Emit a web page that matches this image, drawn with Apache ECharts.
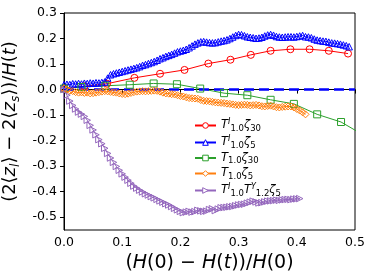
<!DOCTYPE html>
<html><head><meta charset="utf-8">
<script src="https://cdn.jsdelivr.net/npm/echarts@6/dist/echarts.min.js"></script>
<style>html,body{margin:0;padding:0;background:#fff}#c{width:374px;height:280px}</style>
</head><body><div id="c"></div>
<script>
const xTicks = [0.0, 0.1, 0.2, 0.3, 0.4, 0.5];
const yTicks = [-0.5, -0.4, -0.3, -0.2, -0.1, 0.0, 0.1, 0.2, 0.3];

const redX = [0.0, 0.035, 0.074, 0.121, 0.165, 0.207, 0.248, 0.286, 0.321, 0.355, 0.389, 0.422, 0.455, 0.488];
const redY = [0.004, 0.013, 0.023, 0.046, 0.062, 0.077, 0.102, 0.117, 0.136, 0.152, 0.158, 0.158, 0.152, 0.141];

const greenX = [0.0, 0.03, 0.071, 0.113, 0.154, 0.194, 0.234, 0.275, 0.315, 0.355, 0.395, 0.435, 0.476, 0.516];
const greenY = [0.004, 0.010, 0.015, 0.019, 0.024, 0.021, 0.004, -0.014, -0.022, -0.040, -0.056, -0.097, -0.127, -0.180];

const blueX = [0.000,0.005,0.010,0.015,0.020,0.025,0.030,0.035,0.040,0.045,0.050,0.055,0.060,0.065,0.070,0.075,0.080,0.085,0.090,0.095,
0.100,0.105,0.110,0.115,0.120,0.125,0.130,0.135,0.140,0.145,0.150,0.155,0.160,0.165,0.170,0.175,0.180,0.185,0.190,0.195,
0.200,0.205,0.210,0.215,0.220,0.225,0.230,0.235,0.240,0.245,0.250,0.255,0.260,0.265,0.270,0.275,0.280,0.285,0.290,0.295,
0.300,0.305,0.310,0.315,0.320,0.325,0.330,0.335,0.340,0.345,0.350,0.355,0.360,0.365,0.370,0.375,0.380,0.385,0.390,0.395,
0.400,0.405,0.410,0.415,0.420,0.425,0.430,0.435,0.440,0.445,0.450,0.455,0.460,0.465,0.470,0.475,0.480,0.485,0.490];
const blueY = [0.019,0.021,0.020,0.023,0.022,0.024,0.022,0.025,0.024,0.026,0.025,0.027,0.026,0.028,0.030,0.045,0.058,0.062,0.065,0.068,
0.071,0.074,0.077,0.080,0.083,0.086,0.090,0.095,0.098,0.102,0.106,0.110,0.115,0.121,0.125,0.130,0.134,0.138,0.143,0.148,
0.151,0.154,0.158,0.164,0.171,0.178,0.183,0.187,0.188,0.186,0.184,0.183,0.184,0.187,0.190,0.192,0.195,0.200,0.206,0.212,
0.216,0.215,0.211,0.207,0.205,0.203,0.201,0.202,0.205,0.210,0.214,0.216,0.213,0.208,0.206,0.205,0.206,0.207,0.207,0.206,
0.208,0.210,0.212,0.207,0.206,0.203,0.198,0.194,0.192,0.190,0.189,0.186,0.183,0.182,0.180,0.178,0.175,0.172,0.168];

const orangeX = [0.000,0.005,0.010,0.015,0.020,0.025,0.030,0.035,0.040,0.045,0.050,0.055,0.060,0.065,0.070,0.075,0.080,0.085,0.090,0.095,
0.100,0.105,0.110,0.115,0.120,0.125,0.130,0.135,0.140,0.145,0.150,0.155,0.160,0.165,0.170,0.175,0.180,0.185,0.190,0.195,
0.200,0.205,0.210,0.215,0.220,0.225,0.230,0.235,0.240,0.245,0.250,0.255,0.260,0.265,0.270,0.275,0.280,0.285,0.290,0.295,
0.300,0.305,0.310,0.315,0.320,0.325,0.330,0.335,0.340,0.345,0.350,0.355,0.360,0.365,0.370,0.375,0.380,0.385,0.390,0.395,
0.400,0.405,0.410,0.415];
const orangeY = [0.004,0.000,-0.004,-0.006,-0.010,-0.012,-0.011,-0.013,-0.012,-0.015,-0.014,-0.012,-0.010,-0.008,-0.006,-0.007,-0.009,-0.011,-0.012,-0.015,
-0.017,-0.018,-0.016,-0.013,-0.010,-0.008,-0.007,-0.006,-0.007,-0.006,-0.005,-0.004,-0.005,-0.008,-0.012,-0.015,-0.016,-0.018,-0.019,-0.022,
-0.025,-0.027,-0.030,-0.033,-0.034,-0.035,-0.036,-0.041,-0.044,-0.045,-0.046,-0.048,-0.050,-0.051,-0.052,-0.053,-0.055,-0.056,-0.058,-0.060,
-0.061,-0.060,-0.059,-0.060,-0.062,-0.061,-0.060,-0.062,-0.065,-0.066,-0.064,-0.063,-0.066,-0.069,-0.070,-0.068,-0.067,-0.066,-0.066,-0.070,
-0.076,-0.082,-0.089,-0.097];

const purpleX = [0.000,0.005,0.010,0.015,0.020,0.025,0.030,0.035,0.040,0.045,0.050,0.055,0.060,0.065,0.070,0.075,0.080,0.085,0.090,0.095,
0.100,0.105,0.110,0.115,0.120,0.125,0.130,0.135,0.140,0.145,0.150,0.155,0.160,0.165,0.170,0.175,0.180,0.185,0.190,0.195,
0.200,0.205,0.210,0.215,0.220,0.225,0.230,0.235,0.240,0.245,0.250,0.255,0.260,0.265,0.270,0.275,0.280,0.285,0.290,0.295,
0.300,0.305,0.310,0.315,0.320,0.325,0.330,0.335,0.340,0.345,0.350,0.355,0.360,0.365,0.370,0.375,0.380,0.385,0.390,0.395,
0.400,0.405];
const purpleY = [0.000,-0.022,-0.045,-0.062,-0.076,-0.088,-0.096,-0.105,-0.120,-0.140,-0.158,-0.177,-0.196,-0.212,-0.230,-0.250,-0.268,-0.285,-0.301,-0.316,
-0.330,-0.343,-0.355,-0.367,-0.378,-0.386,-0.394,-0.401,-0.408,-0.413,-0.419,-0.424,-0.430,-0.436,-0.441,-0.447,-0.452,-0.458,-0.465,-0.471,
-0.477,-0.482,-0.480,-0.477,-0.480,-0.478,-0.473,-0.475,-0.477,-0.476,-0.470,-0.467,-0.474,-0.468,-0.463,-0.462,-0.461,-0.459,-0.458,-0.455,
-0.452,-0.450,-0.449,-0.445,-0.441,-0.437,-0.440,-0.444,-0.443,-0.440,-0.437,-0.436,-0.435,-0.433,-0.434,-0.432,-0.431,-0.430,-0.431,-0.429,
-0.428,-0.427];

const zeroX = [0.0, 0.5];
const zeroY = [0.0, 0.0];

const seriesNames = ['s1','s2','s3','s4','s5'];
const legendLabels = {
  s1: '{it|T}{sup|I}{sub|1.0}{it|ζ}{sub|30}',
  s2: '{it|T}{sup|I}{sub|1.0}{it|ζ}{sub|5}',
  s3: '{it|T}{sub|1.0}{it|ζ}{sub|30}',
  s4: '{it|T}{sub|1.0}{it|ζ}{sub|5}',
  s5: '{it|T}{sup|I}{sub|1.0}{it|T}{sup|Y}{sub|1.2}{it|ζ}{sub|5}'
};

function pairs(xs, ys){ return xs.map((x,i)=>[x, ys[i]]); }
const FF = 'DejaVu Sans';

function mk(name, xs, ys, color, symbol, size, rotate){
  return {
    name: name, type: 'line', data: pairs(xs, ys),
    symbol: symbol, symbolSize: size, symbolRotate: rotate || 0,
    showAllSymbol: true,
    color: color,
    lineStyle: {color: color, width: 1},
    itemStyle: {color: 'none', borderColor: color, borderWidth: 1},
    emphasis: {disabled: true},
    animation: false, clip: true
  };
}

const chart = echarts.init(document.getElementById('c'), null, {renderer: 'canvas'});
chart.setOption({
  animation: false,
  backgroundColor: '#fff',
  grid: {left: 64, right: 19, top: 13, bottom: 50, containLabel: false, outerBoundsMode: 'none',
         show: true, borderColor: '#000', borderWidth: 1, backgroundColor: 'transparent'},
  xAxis: {
    type: 'value', min: 0, max: 0.5, interval: 0.1,
    axisLine: {show: true, lineStyle: {color: '#000', width: 1}},
    axisTick: {show: true, inside: false, length: 4, lineStyle: {color: '#000'}},
    axisLabel: {color: '#000', fontFamily: FF, fontSize: 12.5, margin: 6, formatter: v => v.toFixed(1)},
    splitLine: {show: false},
    name: '{r|(}{i|H}{r|(0) − }{i|H}{r|(}{i|t}{r|))/}{i|H}{r|(0)}',
    nameLocation: 'middle', nameGap: 21,
    nameTextStyle: {fontFamily: FF, fontSize: 19, color: '#000',
      rich: {r: {fontFamily: FF, fontSize: 19, color: '#000'}, i: {fontFamily: FF, fontSize: 19, fontStyle: 'italic', color: '#000'}}}
  },
  yAxis: {
    type: 'value', min: -0.55, max: 0.3,
    axisLine: {show: true, onZero: false, lineStyle: {color: '#000', width: 1}},
    axisTick: {show: true, inside: false, length: 4, customValues: yTicks, lineStyle: {color: '#000'}},
    axisLabel: {color: '#000', fontFamily: FF, fontSize: 12.5, margin: 7, customValues: yTicks, formatter: v => v.toFixed(1)},
    splitLine: {show: false},
    name: '{r|(2⟨}{i|z}{s|l}{r|⟩ − 2⟨}{i|z}{s|s}{r|⟩)/}{i|H}{r|(}{i|t}{r|)}',
    nameLocation: 'middle', nameGap: 38, nameRotate: 90,
    nameTextStyle: {fontFamily: FF, fontSize: 18, color: '#000',
      rich: {r: {fontFamily: FF, fontSize: 18, color: '#000', lineHeight: 22},
             i: {fontFamily: FF, fontSize: 18, fontStyle: 'italic', color: '#000', lineHeight: 22},
             s: {fontFamily: FF, fontSize: 12, fontStyle: 'italic', color: '#000', lineHeight: 12, verticalAlign: 'bottom'}}}
  },
  legend: {
    data: seriesNames, orient: 'vertical', left: 189, top: 113,
    itemWidth: 21, itemHeight: 7, itemGap: 2,
    itemStyle: {color: '#ffffff', borderWidth: 1},
    formatter: n => legendLabels[n],
    textStyle: {fontFamily: FF, fontSize: 11, color: '#000',
      rich: {
        it: {fontFamily: FF, fontSize: 11.5, fontStyle: 'italic', color: '#000', lineHeight: 15},
        sub: {fontFamily: FF, fontSize: 8.5, color: '#000', lineHeight: 8, verticalAlign: 'bottom'},
        sup: {fontFamily: FF, fontSize: 8, fontStyle: 'italic', color: '#000', lineHeight: 8, verticalAlign: 'top'}
      }},
    selectedMode: false
  },
  series: [
    mk('s1', redX, redY, '#ff0000', 'circle', 7),
    mk('s2', blueX, blueY, '#0000ff', 'triangle', 6.5),
    mk('s3', greenX, greenY, '#2ca02c', 'rect', 7),
    mk('s4', orangeX, orangeY, '#ff7f0e', 'path://M0,-1L1,0L0,1L-1,0Z', 7),
    mk('s5', purpleX, purpleY, '#9467bd', 'triangle', 6.5, -90),
    {name: 'zero', type: 'line', data: pairs(zeroX, zeroY), symbol: 'none',
     lineStyle: {color: '#0000ff', width: 2.5, type: [10, 5]}, silent: true, animation: false}
  ]
});
</script></body></html>
